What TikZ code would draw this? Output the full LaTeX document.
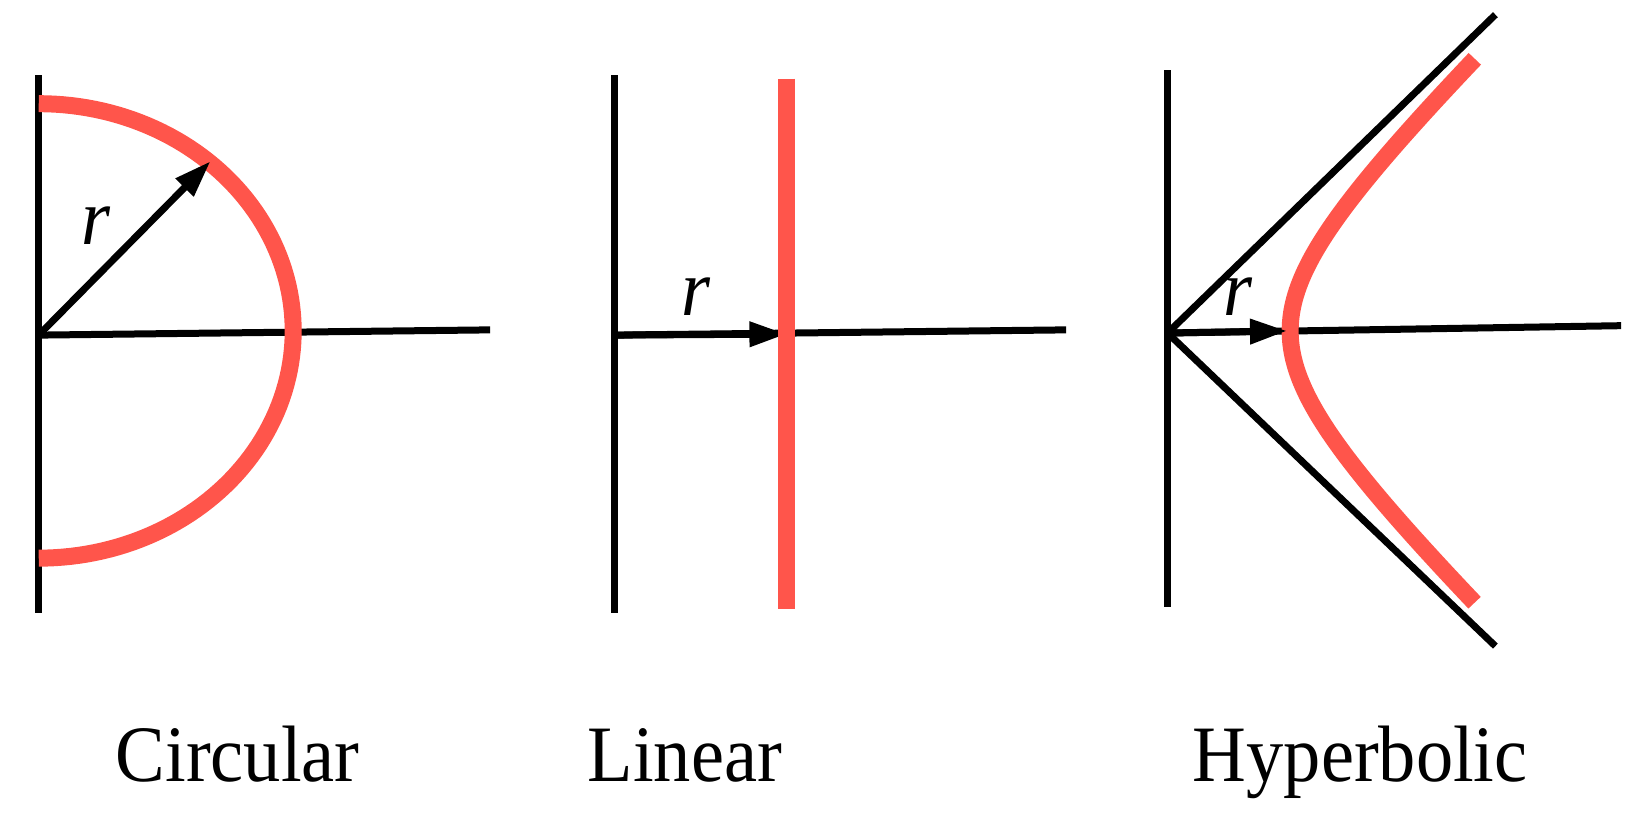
\documentclass[tikz,border=0pt]{standalone}
\usepackage{fontspec}
\setmainfont{Liberation Serif}[FakeStretch=0.93]
\usetikzlibrary{arrows.meta}
\definecolor{curvered}{RGB}{255,85,75}

\begin{document}
\begin{tikzpicture}[x=0.5236pt, y=-0.5236pt,
    axis/.style={line width=3.5pt},
    curve/.style={curvered, line width=8.5pt},
    lab/.style={font=\fontsize{40}{44}\selectfont, inner sep=0pt},
    >={Triangle[length=18.5pt, width=12pt]}]
  \useasboundingbox (0,0) rectangle (1568,777.3);

  % circular
  \coordinate (c0) at (37,320);
  \coordinate (c1) at (201,154);
  \draw[axis] (37,72) -- (37,585);
  \draw[axis] (c0) -- (468,315);
  \draw[curve, domain=-90:90, samples=100]
        plot ({37+243*cos(\x)}, {316+217*sin(\x)});
  \draw[axis, ->] (c0) -- (c1);
  \node[lab] (rc) at (92,215) {\textit{r}};

  % linear
  \coordinate (l0) at (587,320);
  \coordinate (l1) at (751,319);
  \draw[axis] (587,72) -- (587,585);
  \draw[axis] (l0) -- (1018,315);
  \draw[axis, ->] (l0) -- (l1);
  \draw[curve] (751,75) -- (751,582);
  \node[lab] (rl) at (665,283) {\textit{r}};

  % hyperbolic
  \coordinate (h0) at (1115,318);
  \coordinate (h1) at (1229,316);
  \draw[axis] (1115,67) -- (1115,580);
  \draw[axis] (h0) -- (1548,311);
  \draw[axis] (h0) -- (1428,14);
  \draw[axis] (h0) -- (1428,617);
  \draw[curve, domain=-1.57:1.57, samples=100]
        plot ({1115+117*cosh(\x)}, {316+113*sinh(\x)});
  \draw[axis, ->] (h0) -- (h1);
  \node[lab] (rh) at (1182,283) {\textit{r}};

  \node[lab, anchor=base] (circ) at (227,746) {Circular};
  \node[lab, anchor=base] (lin) at (654,746) {Linear};
  \node[lab, anchor=base] (hyp) at (1299,746) {Hyperbolic};
\end{tikzpicture}
\end{document}
